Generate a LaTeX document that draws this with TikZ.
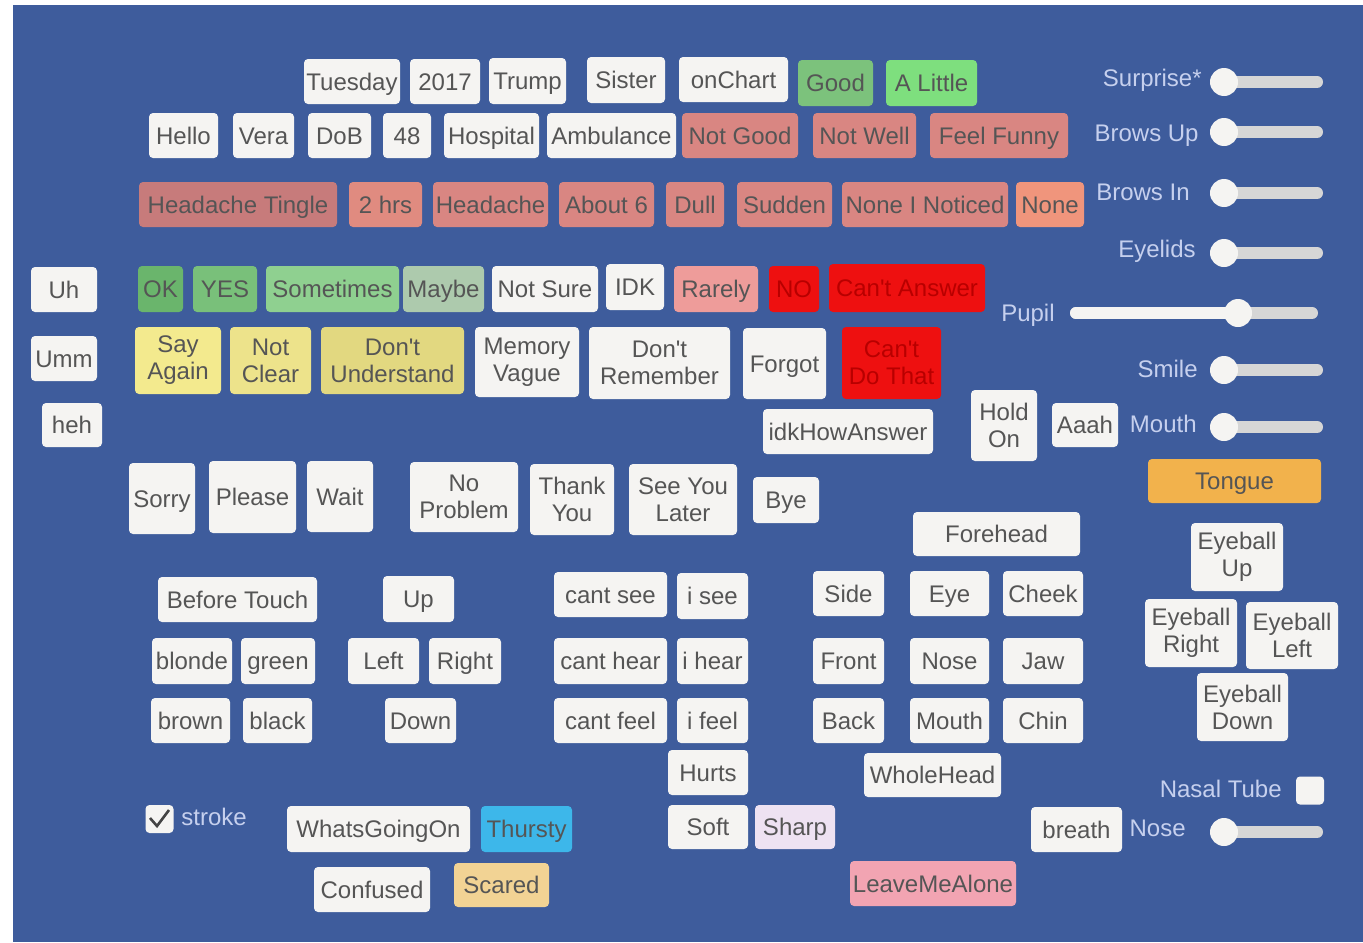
\documentclass[tikz,border=0pt]{standalone}
\usepackage{fontspec}
\setmainfont{Liberation Sans}
\usepackage{tikz}
\usetikzlibrary{positioning,calc}

\definecolor{panel}{HTML}{3E5C9C}
\definecolor{keywhite}{HTML}{F5F4F2}
\definecolor{keytext}{HTML}{555555}
\definecolor{lbltext}{HTML}{C6D0EE}
\definecolor{trackgrey}{HTML}{D6D6D6}
\definecolor{checkgrey}{HTML}{444444}
\definecolor{goodgreen}{HTML}{7CC27C}
\definecolor{littlegreen}{HTML}{7EDF7E}
\definecolor{okgreen}{HTML}{6AB56C}
\definecolor{yesgreen}{HTML}{79C07A}
\definecolor{somegreen}{HTML}{8FD090}
\definecolor{maybegreen}{HTML}{ADCAAD}
\definecolor{sore}{HTML}{D98682}
\definecolor{soredark}{HTML}{C77B7B}
\definecolor{sorelight}{HTML}{E08B80}
\definecolor{soreorange}{HTML}{F0957C}
\definecolor{rarelypink}{HTML}{EE9C9A}
\definecolor{alarm}{HTML}{EE1010}
\definecolor{alarmtext}{HTML}{B80000}
\definecolor{sayyellow}{HTML}{F3EA8E}
\definecolor{clearyellow}{HTML}{EDE38B}
\definecolor{undyellow}{HTML}{E2D880}
\definecolor{tongueorange}{HTML}{F2B24C}
\definecolor{thurstyblue}{HTML}{3DB7EA}
\definecolor{scaredsand}{HTML}{F2D394}
\definecolor{sharplilac}{HTML}{EEE2F2}
\definecolor{leavepink}{HTML}{F2A4B2}

\newcommand{\keyfont}{\fontsize{12}{13.5}\selectfont}
\newcommand{\apos}{\textquotesingle}

\tikzset{
  uikey/.style={fill=keywhite, text=keytext, rounded corners=2pt, inner sep=0pt, align=center, font=\keyfont},
  btn/.style={uikey, text height=11pt, text depth=2.4pt},
  btntwo/.style={uikey},
  box/.style n args={4}{at={({(#1+#3)/2},{(#2+#4)/2})}, minimum width={(#3-#1)*0.5pt}, minimum height={(#4-#2)*0.5pt}},
  hot/.style={fill=alarm, text=alarmtext},
  lbl/.style={text=lbltext, font=\keyfont, inner sep=0pt, anchor=base east},
  track/.style={draw=trackgrey, line width=6pt, line cap=round},
  knob/.style={circle, fill=keywhite, inner sep=0pt, minimum size=14pt},
  checkbox/.style={fill=keywhite, rounded corners=2pt, inner sep=0pt, minimum size=14pt}
}

\begin{document}
\begin{tikzpicture}[x=0.5pt,y=-0.5pt]
    \useasboundingbox (0,0) rectangle (1363,942);
    \fill[white] (0,0) rectangle (1363,942);
    \fill[panel] (13,5) rectangle (1363,942);

    % Top row
    \node[btn, box={304}{59}{400}{104}] (tuesday) {Tuesday};
    \node[btn, box={410}{59}{480}{104}] (year) {2017};
    \node[btn, box={489}{58}{566}{104}] (trump) {Trump};
    \node[btn, box={587}{57}{665}{103}] (sister) {Sister};
    \node[btn, box={679}{57}{788}{102}] (onchart) {onChart};
    \node[btn, box={798}{60}{873}{106}, fill=goodgreen] (good) {Good};
    \node[btn, box={886}{60}{977}{106}, fill=littlegreen] (alittle) {A Little};

    \node[btn, box={149}{113}{218}{158}] (hello) {Hello};
    \node[btn, box={233}{113}{294}{158}] (vera) {Vera};
    \node[btn, box={308}{113}{371}{158}] (dob) {DoB};
    \node[btn, box={383}{113}{431}{158}] (age) {48};
    \node[btn, box={444}{113}{539}{158}] (hospital) {Hospital};
    \node[btn, box={547}{113}{676}{158}] (ambulance) {Ambulance};
    \node[btn, box={682}{113}{798}{158}, fill=sore] (notgood) {Not Good};
    \node[btn, box={813}{113}{916}{158}, fill=sore] (notwell) {Not Well};
    \node[btn, box={930}{113}{1068}{158}, fill=sore] (feelfunny) {Feel Funny};

    % Pain row
    \node[btn, box={139}{182}{337}{227}, fill=soredark] (tingle) {Headache Tingle};
    \node[btn, box={349}{182}{422}{227}, fill=sorelight] (twohrs) {2 hrs};
    \node[btn, box={433}{182}{548}{227}, fill=sore] (headache) {Headache};
    \node[btn, box={559}{182}{654}{227}, fill=sore] (aboutsix) {About 6};
    \node[btn, box={666}{182}{724}{227}, fill=sore] (dull) {Dull};
    \node[btn, box={737}{182}{832}{227}, fill=sore] (sudden) {Sudden};
    \node[btn, box={842}{182}{1008}{227}, fill=sore] (noticed) {None I Noticed};
    \node[btn, box={1016}{182}{1084}{227}, fill=soreorange] (none) {None};

    % Fillers
    \node[btn, box={31}{267}{97}{312}] (uh) {Uh};
    \node[btn, box={31}{336}{97}{381}] (umm) {Umm};
    \node[btn, box={42}{403}{102}{447}] (heh) {heh};

    % Answers
    \node[btn, box={138}{266}{183}{312}, fill=okgreen] (ok) {OK};
    \node[btn, box={193}{266}{257}{312}, fill=yesgreen] (yes) {YES};
    \node[btn, box={266}{266}{399}{312}, fill=somegreen] (sometimes) {Sometimes};
    \node[btn, box={403}{266}{484}{312}, fill=maybegreen] (maybe) {Maybe};
    \node[btn, box={492}{266}{598}{312}] (notsure) {Not Sure};
    \node[btn, box={606}{264}{664}{310}] (idk) {IDK};
    \node[btn, box={674}{266}{758}{312}, fill=rarelypink] (rarely) {Rarely};
    \node[btn, box={769}{266}{819}{312}, hot] (no) {NO};
    \node[btn, box={829}{264}{985}{312}, hot] (cantanswer) {Can\apos t Answer};

    \node[btntwo, box={135}{327}{221}{394}, fill=sayyellow] (sayagain) {Say\\Again};
    \node[btntwo, box={230}{327}{311}{394}, fill=clearyellow] (notclear) {Not\\Clear};
    \node[btntwo, box={321}{327}{464}{394}, fill=undyellow] (dontund) {Don\apos t\\Understand};
    \node[btntwo, box={475}{327}{579}{397}] (memory) {Memory\\Vague};
    \node[btntwo, box={589}{327}{730}{399}] (dontrem) {Don\apos t\\Remember};
    \node[btn, box={743}{328}{826}{399}] (forgot) {Forgot};
    \node[btntwo, box={842}{327}{941}{399}, hot] (cantdo) {Can\apos t\\Do That};

    \node[btn, box={763}{409}{933}{454}] (idkhow) {idkHowAnswer};
    \node[btntwo, box={971}{390}{1037}{461}] (holdon) {Hold\\On};
    \node[btn, box={1052}{403}{1118}{447}] (aaah) {Aaah};

    % Courtesy
    \node[btn, box={129}{463}{195}{534}] (sorry) {Sorry};
    \node[btn, box={209}{461}{296}{533}] (please) {Please};
    \node[btn, box={307}{461}{373}{532}] (wait) {Wait};
    \node[btntwo, box={410}{462}{518}{532}] (noproblem) {No\\Problem};
    \node[btntwo, box={530}{464}{614}{535}] (thankyou) {Thank\\You};
    \node[btntwo, box={629}{464}{737}{535}] (seeyou) {See You\\Later};
    \node[btn, box={753}{477}{819}{523}] (bye) {Bye};

    % Face sliders
    \node[lbl] (lsurprise) at (1202,86) {Surprise*};
    \draw[track] (1216,82) -- (1317,82);
    \node[knob] (ksurprise) at (1224,82) {};
    \node[lbl] (lbrowsup) at (1199,141) {Brows Up};
    \draw[track] (1216,132) -- (1317,132);
    \node[knob] (kbrowsup) at (1224,132) {};
    \node[lbl] (lbrowsin) at (1190,200) {Brows In};
    \draw[track] (1216,193) -- (1317,193);
    \node[knob] (kbrowsin) at (1224,193) {};
    \node[lbl] (leyelids) at (1196,257) {Eyelids};
    \draw[track] (1216,253) -- (1317,253);
    \node[knob] (keyelids) at (1224,253) {};
    \node[lbl] (lpupil) at (1055,321) {Pupil};
    \draw[track] (1076,313) -- (1312,313);
    \draw[track, draw=keywhite] (1076,313) -- (1238,313);
    \node[knob] (kpupil) at (1238,313) {};
    \node[lbl] (lsmile) at (1198,377) {Smile};
    \draw[track] (1216,370) -- (1317,370);
    \node[knob] (ksmile) at (1224,370) {};
    \node[lbl] (lmouth) at (1197,432) {Mouth};
    \draw[track] (1216,427) -- (1317,427);
    \node[knob] (kmouth) at (1224,427) {};
    \node[btn, box={1148}{459}{1321}{503}, fill=tongueorange] (tongue) {Tongue};

    % Eyeballs
    \node[btntwo, box={1191}{523}{1283}{591}] (eyeup) {Eyeball\\Up};
    \node[btntwo, box={1145}{599}{1237}{667}] (eyeright) {Eyeball\\Right};
    \node[btntwo, box={1246}{602}{1338}{669}] (eyeleft) {Eyeball\\Left};
    \node[btntwo, box={1197}{673}{1288}{741}] (eyedown) {Eyeball\\Down};

    % Before touch
    \node[btn, box={158}{577}{317}{622}] (beforetouch) {Before Touch};
    \node[btn, box={152}{638}{232}{684}] (blonde) {blonde};
    \node[btn, box={241}{638}{315}{684}] (green) {green};
    \node[btn, box={151}{698}{230}{743}] (brown) {brown};
    \node[btn, box={243}{698}{312}{743}] (black) {black};
    \node[btn, box={383}{576}{454}{622}] (up) {Up};
    \node[btn, box={348}{638}{419}{684}] (left) {Left};
    \node[btn, box={429}{638}{501}{684}] (right) {Right};
    \node[btn, box={385}{698}{456}{743}] (down) {Down};

    % Senses
    \node[btn, box={554}{572}{667}{617}] (cantsee) {cant see};
    \node[btn, box={677}{573}{748}{619}] (isee) {i see};
    \node[btn, box={554}{638}{667}{684}] (canthear) {cant hear};
    \node[btn, box={677}{638}{748}{684}] (ihear) {i hear};
    \node[btn, box={554}{698}{667}{743}] (cantfeel) {cant feel};
    \node[btn, box={677}{698}{748}{743}] (ifeel) {i feel};
    \node[btn, box={668}{750}{748}{795}] (hurts) {Hurts};
    \node[btn, box={668}{805}{748}{849}] (soft) {Soft};
    \node[btn, box={755}{805}{835}{849}, fill=sharplilac] (sharp) {Sharp};

    % Head parts
    \node[btn, box={913}{512}{1080}{556}] (forehead) {Forehead};
    \node[btn, box={813}{571}{884}{616}] (side) {Side};
    \node[btn, box={910}{571}{989}{616}] (eye) {Eye};
    \node[btn, box={1003}{571}{1083}{616}] (cheek) {Cheek};
    \node[btn, box={813}{638}{884}{684}] (front) {Front};
    \node[btn, box={910}{638}{989}{684}] (nose) {Nose};
    \node[btn, box={1003}{638}{1083}{684}] (jaw) {Jaw};
    \node[btn, box={813}{698}{884}{743}] (back) {Back};
    \node[btn, box={910}{698}{989}{743}] (mouth) {Mouth};
    \node[btn, box={1003}{698}{1083}{743}] (chin) {Chin};
    \node[btn, box={864}{753}{1001}{797}] (wholehead) {WholeHead};
    \node[btn, box={850}{861}{1016}{906}, fill=leavepink] (leave) {LeaveMeAlone};
    \node[btn, box={1031}{807}{1122}{852}] (breath) {breath};

    % Nose
    \node[lbl] (lnasal) at (1282,797) {Nasal Tube};
    \node[checkbox] (cnasal) at (1310,790.5) {};
    \node[lbl] (lnose) at (1186,836) {Nose};
    \draw[track] (1216,832) -- (1317,832);
    \node[knob] (knose) at (1224,832) {};

    % Stroke and feelings
    \node[checkbox] (cstroke) at (159.5,819) {};
    \draw[draw=checkgrey, line width=1.3pt] (150,818) -- (157,826) -- (169,810);
    \node[lbl, anchor=base west] (lstroke) at (181,825) {stroke};
    \node[btn, box={287}{806}{470}{852}] (whatsgoing) {WhatsGoingOn};
    \node[btn, box={481}{806}{572}{852}, fill=thurstyblue] (thursty) {Thursty};
    \node[btn, box={314}{867}{430}{912}] (confused) {Confused};
    \node[btn, box={454}{863}{549}{907}, fill=scaredsand] (scared) {Scared};
\end{tikzpicture}
\end{document}
